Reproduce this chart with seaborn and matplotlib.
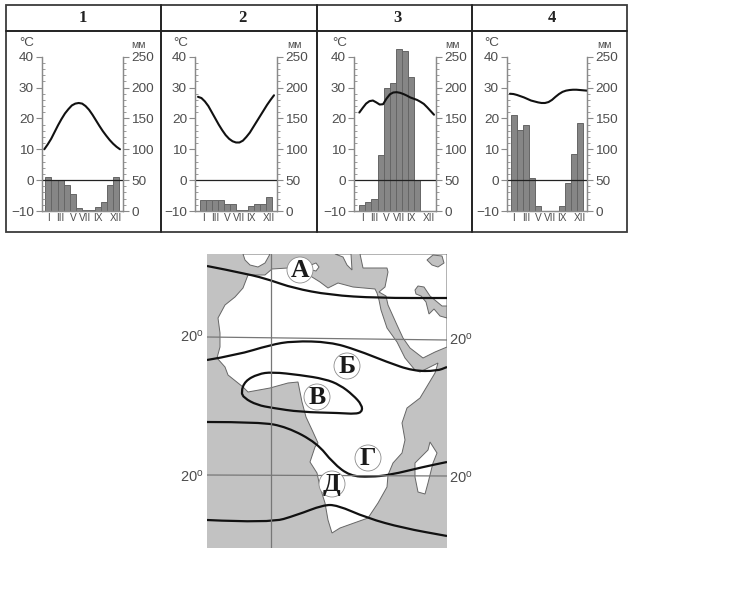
import numpy as np
import pandas as pd
import matplotlib
matplotlib.use("Agg")
import matplotlib.pyplot as plt
from matplotlib.patches import Circle, PathPatch, Polygon, Rectangle
from matplotlib.path import Path
from matplotlib.ticker import FixedLocator
import seaborn as sns

W, H = 740, 612

# Monthly precipitation, mm
rain_1 = [55, 50, 50, 42, 28, 5, 2, 2, 6, 15, 42, 55]
rain_2 = [18, 18, 18, 18, 12, 12, 2, 2, 8, 12, 12, 22]
rain_3 = [10, 15, 19, 90, 200, 208, 263, 259, 217, 50, 0, 0]
rain_4 = [155, 132, 139, 54, 8, 0, 0, 0, 8, 46, 92, 142]

# Temperature through the year at half-month steps, °C
temp_1 = [10, 11.6, 13.4, 15.6, 17.8, 19.8, 21.6, 23, 24.2, 24.8, 25, 24.8,
          24, 22.8, 21.2, 19.4, 17.6, 15.9, 14.4, 13, 11.8, 10.8, 10]
temp_2 = [27, 26.6, 25.5, 24, 22, 20, 18, 16.2, 14.6, 13.4, 12.6, 12.2,
          12.2, 12.8, 14, 15.4, 17.2, 19, 20.8, 22.6, 24.4, 26, 27.5]
temp_3 = [21.9, 23.4, 24.8, 25.6, 25.8, 25.2, 24.5, 24.6, 26.4, 27.8, 28.4, 28.5,
          28.3, 27.9, 27.4, 26.8, 26.4, 26, 25.4, 24.7, 23.6, 22.4, 21.2]
temp_4 = [28, 27.9, 27.6, 27.2, 26.8, 26.3, 25.8, 25.5, 25.2, 25, 25, 25.3,
          26, 27, 27.9, 28.6, 29, 29.2, 29.3, 29.3, 29.2, 29.1, 29]

panel_titles = ["1", "2", "3", "4"]
month_labels = ["I", "III", "V", "VII", "IX", "XII"]
month_slots = [0, 2, 4, 6, 8, 11]
temp_ticks = [-10, 0, 10, 20, 30, 40]
temp_tick_labels = ["\u221210", "0", "10", "20", "30", "40"]
rain_ticks = [0, 50, 100, 150, 200, 250]

# Map outlines, in page pixels
land_africa = [
    (248, 275), (265, 275), (272, 269), (288, 268), (303, 270), (312, 277),
    (320, 282), (328, 288), (338, 283), (353, 287), (375, 289), (377, 293),
    (379, 300), (381, 310), (387, 328), (397, 342), (405, 358), (415, 370),
    (420, 372), (430, 367), (438, 363), (435, 373), (420, 398), (407, 408),
    (402, 423), (405, 440), (402, 453), (393, 463), (388, 475), (387, 487),
    (378, 503), (368, 518), (340, 528), (332, 533), (328, 520), (325, 503),
    (320, 487), (317, 473), (310, 462), (315, 447), (318, 443), (313, 432),
    (306, 417), (302, 402), (298, 382), (288, 383), (270, 388), (248, 392),
    (243, 387), (228, 375), (225, 367), (217, 358), (220, 347), (220, 333),
    (218, 318), (225, 305), (235, 297), (243, 288),
]
land_eurasia = [
    (360, 254), (447, 254), (447, 347), (435, 352), (423, 358), (410, 348),
    (403, 338), (397, 325), (388, 305), (386, 296), (379, 292), (385, 287),
    (388, 272), (387, 268), (370, 268), (363, 268),
]
land_balkans = [(335, 254), (351, 254), (352, 270), (347, 265), (343, 257)]
land_iberia = [(243, 254), (270, 254), (265, 263), (258, 267), (250, 265), (245, 260)]
land_island = [(311, 265), (316, 263), (319, 267), (316, 271), (312, 270)]
gulf_persian = [
    (415, 290), (418, 286), (424, 287), (430, 296), (436, 301), (442, 306),
    (447, 306), (447, 318), (440, 316), (434, 309), (429, 314), (426, 302),
    (421, 296), (416, 294),
]
sea_caspian = [
    (427, 260), (433, 255), (442, 256), (444, 263), (438, 267), (432, 265),
]
island_madagascar = [
    (430, 442), (437, 453), (433, 463), (428, 483), (425, 494), (418, 492),
    (415, 477), (415, 463), (423, 455), (428, 450),
]

isoline_a = [(207, 266), (248, 274), (270, 280), (293, 288), (330, 295), (377, 298), (447, 298)]
isoline_b = [(207, 360), (237, 355), (270, 345), (293, 341), (330, 342), (357, 350),
             (387, 362), (413, 371), (437, 371), (447, 367)]
isoline_v = [(241, 392), (245, 381), (258, 374), (272, 372), (300, 375), (325, 379),
             (340, 385), (353, 395), (362, 405), (362, 412), (355, 414), (340, 413),
             (300, 412), (273, 408), (257, 405), (244, 398)]
isoline_g = [(207, 422), (260, 422), (287, 427), (317, 443), (333, 463), (350, 476),
             (370, 477), (390, 475), (423, 467), (447, 462)]
isoline_d = [(207, 520), (270, 523), (297, 515), (323, 505), (337, 505), (367, 518),
             (403, 528), (447, 536)]

zone_letters = ["\u0410", "\u0411", "\u0412", "\u0413", "\u0414"]
zone_x = [300, 347, 317, 368, 332]
zone_y = [270, 366, 397, 458, 484]

sns.set_theme(style="white")
plt.rcParams["font.family"] = ["Liberation Sans", "DejaVu Sans"]

TEXT = "#4d4d4d"
AXIS = "#8a8a8a"
FRAME = "#3c3c3c"
SEA = "#c2c2c2"

fig = plt.figure(figsize=(W / 100, H / 100), dpi=100, facecolor="white")

page = fig.add_axes([0, 0, 1, 1], zorder=0)
page.set_xlim(0, W)
page.set_ylim(H, 0)
page.axis("off")

# Header table around the four climate charts
page.add_patch(Rectangle((6, 5), 621, 227, fill=False, ec=FRAME, lw=1.3))
page.plot([6, 627], [31, 31], color="#222222", lw=1.4)
for vx in (161, 316.5, 472):
    page.plot([vx, vx], [5, 232], color="#222222", lw=1.4)
for vx, title in zip((83, 242, 397, 552), panel_titles):
    page.text(vx, 18, title, ha="center", va="center", fontsize=12,
              fontweight="bold", family="Liberation Serif", color="#222222")

month_centres = np.arange(12) + 0.5


def climate_panel(left, right, bar_start, bar_step, line_start, line_end, rain, temp):
    box = [left / W, 1 - 211 / H, (right - left) / W, (211 - 56.7) / H]
    ax = fig.add_axes(box, zorder=3)
    ax_mm = ax.twinx()

    frame = pd.DataFrame({"month": month_centres, "mm": rain})
    sns.barplot(data=frame, x="month", y="mm", ax=ax_mm, native_scale=True, orient="x",
                width=1, color="#868686", saturation=1, edgecolor="#666666", linewidth=0.7)
    for bar in ax_mm.patches:
        bar.set_clip_on(False)

    ax.set_zorder(ax_mm.get_zorder() + 1)
    ax.patch.set_visible(False)
    ax.axhline(0, color="#222222", lw=0.9)
    steps = np.linspace((line_start - bar_start) / bar_step, (line_end - bar_start) / bar_step, len(temp))
    sns.lineplot(x=steps, y=temp, ax=ax, color="#111111", lw=1.5, errorbar=None, sort=False)

    xlim = ((left - bar_start) / bar_step, (right - bar_start) / bar_step)
    ax.set_xlim(*xlim)
    ax_mm.set_xlim(*xlim)
    ax.set_ylim(-10, 40)
    ax_mm.set_ylim(0, 250)
    ax.set_xlabel("")
    ax.set_ylabel("")
    ax_mm.set_xlabel("")
    ax_mm.set_ylabel("")

    ax.set_yticks(temp_ticks, temp_tick_labels)
    ax.yaxis.set_minor_locator(FixedLocator(np.arange(-10, 41, 2)))
    ax.tick_params(axis="y", which="major", left=True, length=4, width=0.8, color=AXIS,
                   labelsize=9.7, labelcolor=TEXT, pad=1.8)
    ax.tick_params(axis="y", which="minor", left=True, direction="in", length=2,
                   width=0.6, color=AXIS)
    ax_mm.set_yticks(rain_ticks, [str(v) for v in rain_ticks])
    ax_mm.yaxis.set_minor_locator(FixedLocator(np.arange(0, 251, 10)))
    ax_mm.tick_params(axis="y", which="major", right=True, length=4, width=0.8, color=AXIS,
                      labelsize=9.7, labelcolor=TEXT, pad=2)
    ax_mm.tick_params(axis="y", which="minor", right=True, length=2, width=0.6, color=AXIS)

    ax.set_xticks(month_centres[month_slots], month_labels)
    ax.tick_params(axis="x", bottom=False, length=0, labelsize=7.3, labelcolor=TEXT, pad=1.5)
    ax_mm.tick_params(axis="x", bottom=False, labelbottom=False)

    for axis in (ax, ax_mm):
        axis.spines["top"].set_visible(False)
        for side in ("left", "right", "bottom"):
            axis.spines[side].set_color(AXIS)
            axis.spines[side].set_linewidth(0.9)
    return ax


panels = [
    (42, 123, 45.3, 6.17, 44.3, 120, rain_1, temp_1),
    (195, 277, 200, 6.03, 198, 274, rain_2, temp_2),
    (354, 436, 359.3, 6.07, 359.3, 434, rain_3, temp_3),
    (507, 587, 510.7, 6.05, 510, 587, rain_4, temp_4),
]
for params in panels:
    climate_panel(*params)

for vx in (27, 181, 340, 492):
    page.text(vx, 43, "\u00b0C", ha="center", va="center", fontsize=9.7, color=TEXT)
for vx in (139, 294, 453, 605):
    page.text(vx, 44.5, "\u043c\u043c", ha="center", va="center", fontsize=7.6, color=TEXT)


def smooth_path(points, closed=False):
    """Quadratic curve through the midpoints of an outline's vertices."""
    pts = np.asarray(points, dtype=float)
    if closed:
        start = (pts[-1] + pts[0]) / 2
        verts = [start]
        codes = [Path.MOVETO]
        for i in range(len(pts)):
            verts += [pts[i], (pts[i] + pts[(i + 1) % len(pts)]) / 2]
            codes += [Path.CURVE3, Path.CURVE3]
        return Path(verts, codes)
    verts = [pts[0]]
    codes = [Path.MOVETO]
    for i in range(1, len(pts) - 1):
        verts += [pts[i], (pts[i] + pts[i + 1]) / 2]
        codes += [Path.CURVE3, Path.CURVE3]
    verts += [pts[-1]]
    codes += [Path.LINETO]
    return Path(verts, codes)


# Map of Africa with the climate boundaries
mp = fig.add_axes([207 / W, 1 - 548 / H, 240 / W, 294 / H], zorder=5)
mp.set_xlim(207, 447)
mp.set_ylim(548, 254)
mp.axis("off")
mp.add_patch(Rectangle((207, 254), 240, 294, fc=SEA, ec="none"))
for outline in (land_africa, land_eurasia, land_balkans, land_iberia, land_island, island_madagascar):
    mp.add_patch(Polygon(outline, closed=True, fc="white", ec="#666666", lw=0.7))
for outline in (gulf_persian, sea_caspian):
    mp.add_patch(Polygon(outline, closed=True, fc=SEA, ec="#666666", lw=0.7))

mp.plot([271, 271], [254, 548], color="#777777", lw=0.9)
mp.plot([207, 447], [337, 340], color="#777777", lw=0.9)
mp.plot([207, 447], [475, 476], color="#777777", lw=0.9)

for line in (isoline_a, isoline_b, isoline_g, isoline_d):
    mp.add_patch(PathPatch(smooth_path(line), fill=False, ec="#111111", lw=1.6, capstyle="butt"))
mp.add_patch(PathPatch(smooth_path(isoline_v, closed=True), fill=False, ec="#111111", lw=1.6))

for letter, zx, zy in zip(zone_letters, zone_x, zone_y):
    mp.add_patch(Circle((zx, zy), 13, fc="white", ec="#8c8c8c", lw=0.6, zorder=6))
    mp.text(zx, zy + 0.5, letter, ha="center", va="center", fontsize=18.5, fontweight="bold",
            family="Liberation Serif", color="#1a1a1a", zorder=7)

for tx, ty in ((192, 337), (461, 340), (192, 477), (461, 478)):
    page.text(tx, ty, r"$\mathdefault{20^{o}}$", ha="center", va="center", fontsize=10.5, color=TEXT)

fig.savefig("out.png", dpi=100)
